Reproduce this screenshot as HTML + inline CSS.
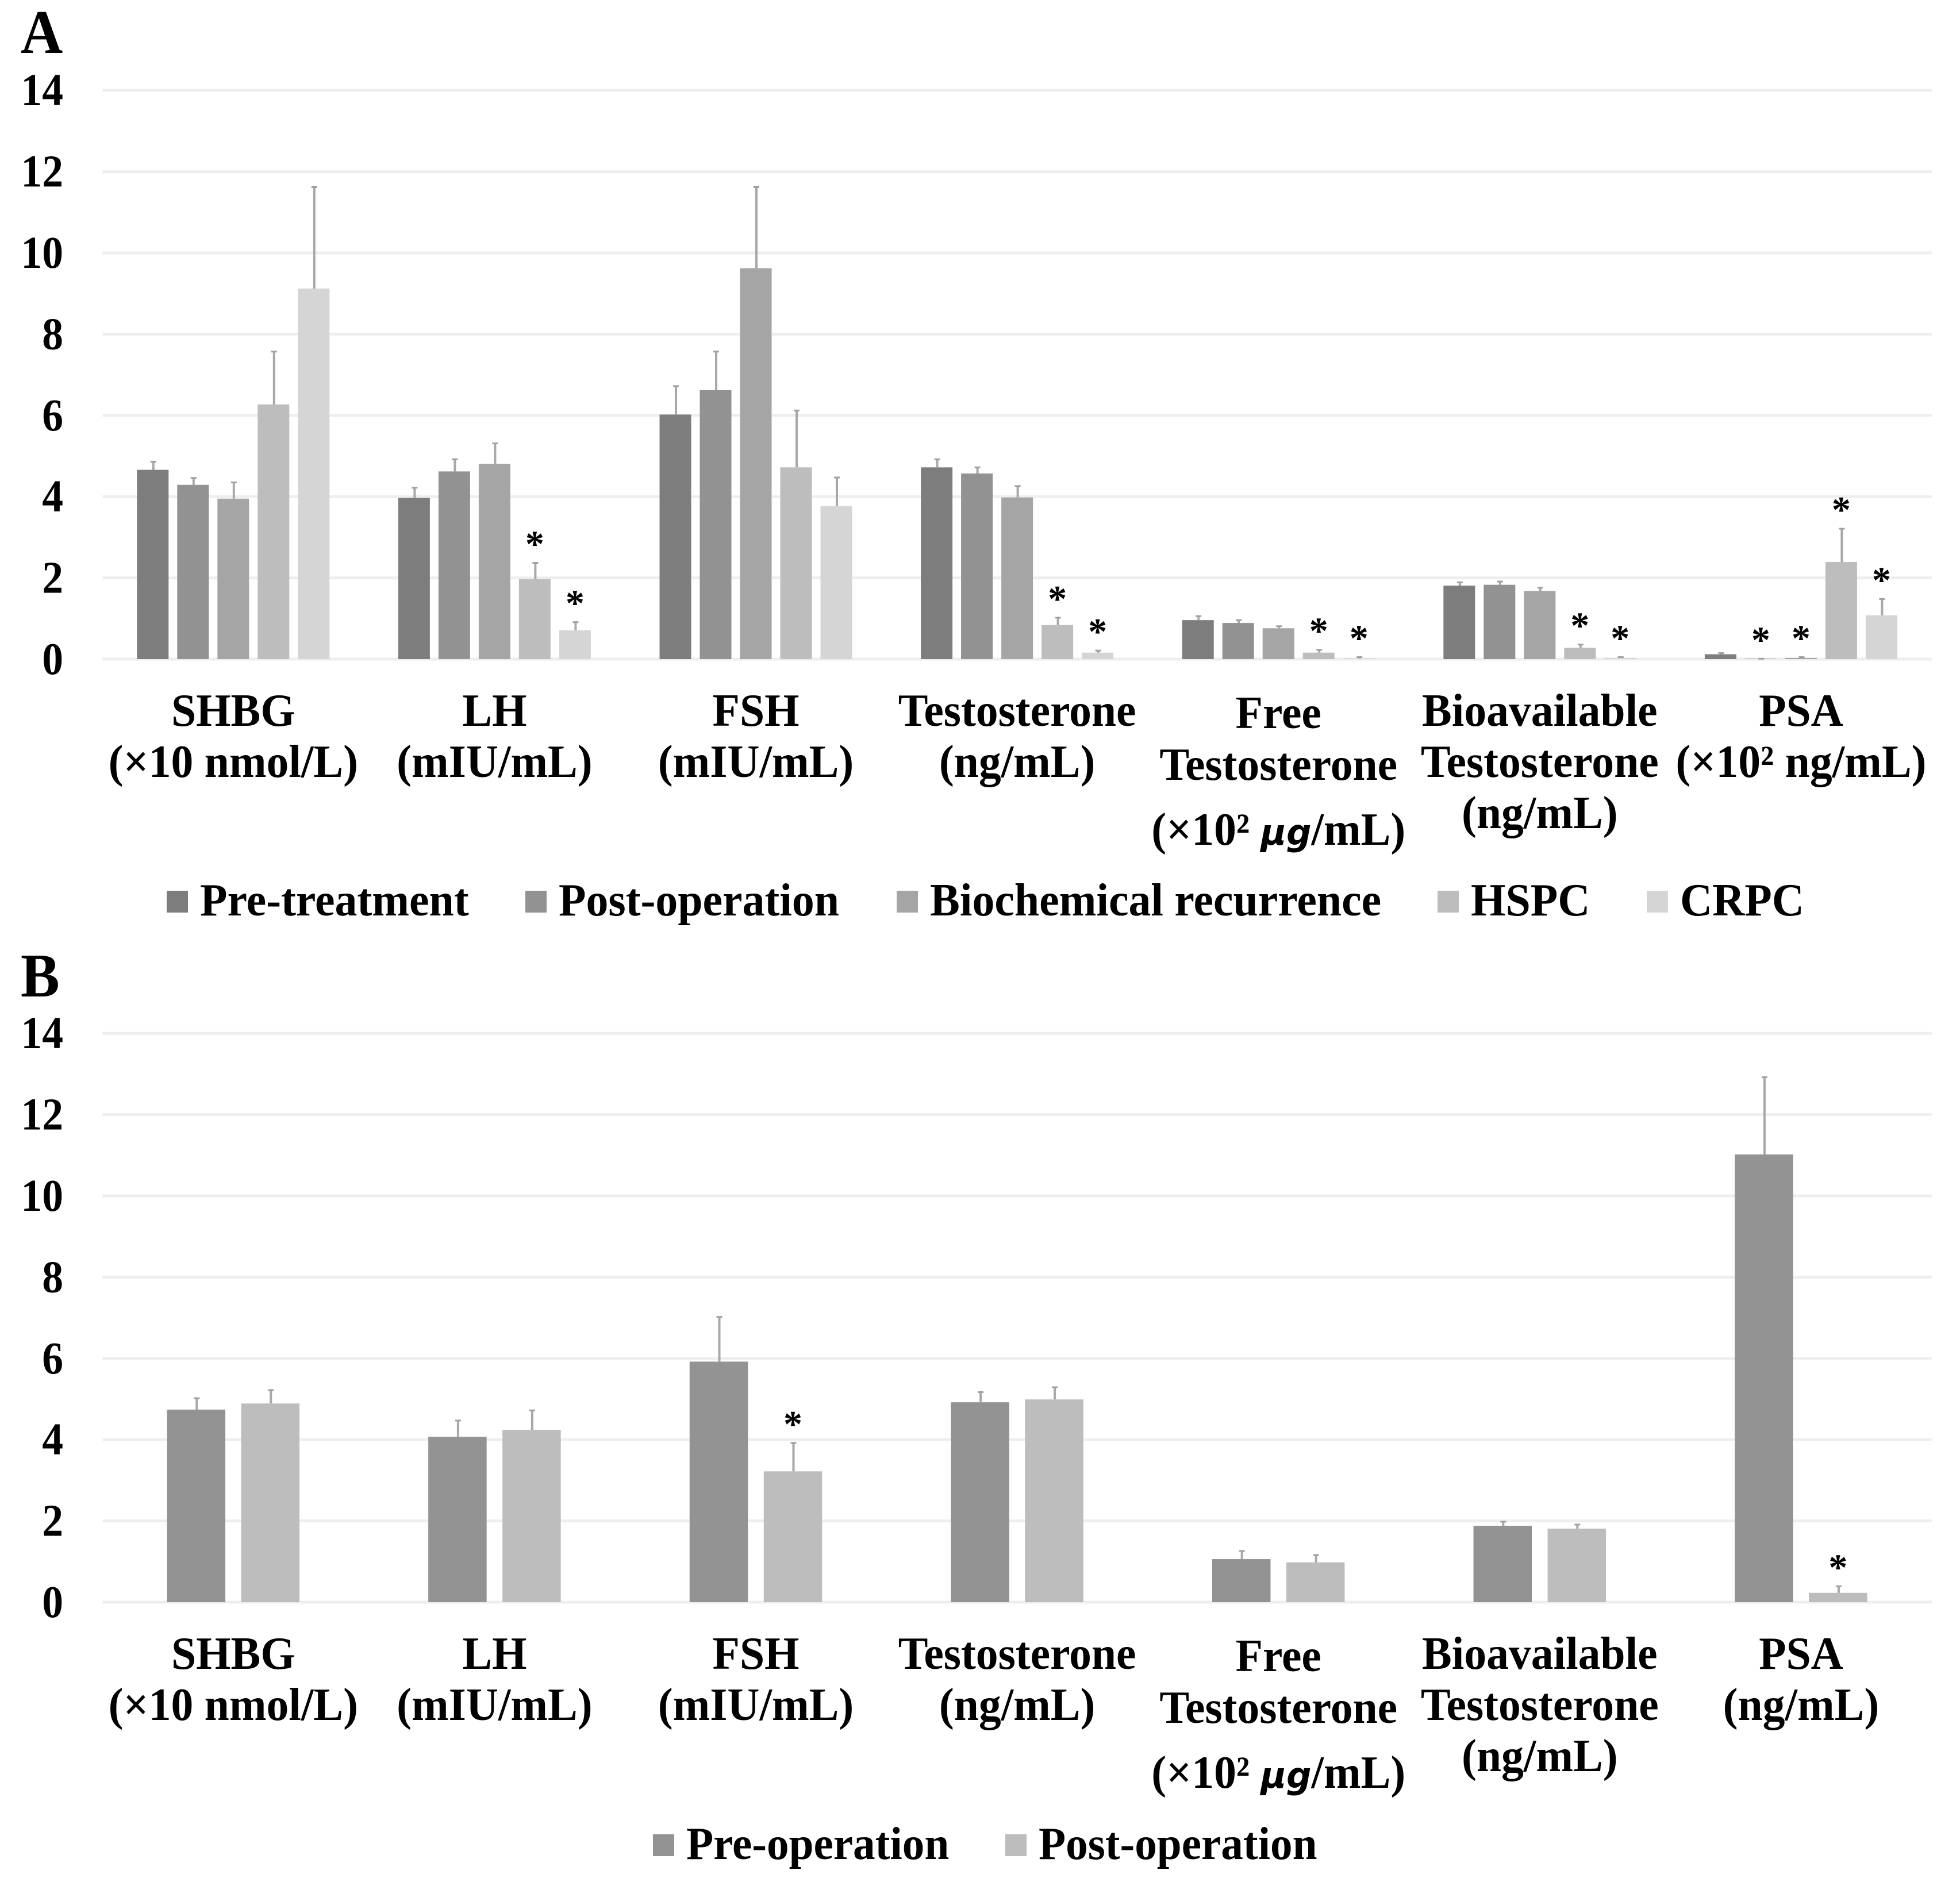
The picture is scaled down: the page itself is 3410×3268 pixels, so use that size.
<!DOCTYPE html>
<html lang="en">
<head>
<meta charset="utf-8">
<title>Hormone and PSA levels by treatment stage</title>
<style>
html,body{margin:0;padding:0;background:#fff;width:3410px;height:3268px;overflow:hidden}
svg{display:block}
text{font-family:"Liberation Serif",serif;font-weight:bold;fill:#000}
</style>
</head>
<body>
<svg id="chart" xmlns="http://www.w3.org/2000/svg" width="3410" height="3268" viewBox="0 0 3410 3268">
<rect width="3410" height="3268" fill="#fff"/>
</svg>
<script>
// ---------- shared data ----------
const yTicks = [0, 2, 4, 6, 8, 10, 12, 14];

const categoriesA = [
  ["SHBG", "(×10 nmol/L)"],
  ["LH", "(mIU/mL)"],
  ["FSH", "(mIU/mL)"],
  ["Testosterone", "(ng/mL)"],
  ["Free", "Testosterone", "(×10² μg/mL)"],
  ["Bioavailable", "Testosterone", "(ng/mL)"],
  ["PSA", "(×10² ng/mL)"]
];
const categoriesB = [
  ["SHBG", "(×10 nmol/L)"],
  ["LH", "(mIU/mL)"],
  ["FSH", "(mIU/mL)"],
  ["Testosterone", "(ng/mL)"],
  ["Free", "Testosterone", "(×10² μg/mL)"],
  ["Bioavailable", "Testosterone", "(ng/mL)"],
  ["PSA", "(ng/mL)"]
];

// ---------- panel A values ----------
const preTreatment = [4.66, 3.97, 6.02, 4.72, 0.96, 1.81, 0.12];
const postOperationA = [4.29, 4.62, 6.62, 4.57, 0.89, 1.83, 0.01];
const biochemicalRecurrence = [3.95, 4.81, 9.62, 3.98, 0.76, 1.68, 0.03];
const hspc = [6.27, 1.97, 4.72, 0.84, 0.16, 0.28, 2.39];
const crpc = [9.12, 0.71, 3.77, 0.16, 0.02, 0.03, 1.08];

const preTreatmentErr = [0.2, 0.25, 0.7, 0.2, 0.1, 0.08, 0.03];
const postOperationAErr = [0.17, 0.3, 0.95, 0.15, 0.07, 0.08, 0.0];
const biochemicalRecurrenceErr = [0.4, 0.5, 2.0, 0.28, 0.05, 0.08, 0.02];
const hspcErr = [1.3, 0.4, 1.4, 0.18, 0.07, 0.08, 0.82];
const crpcErr = [2.5, 0.2, 0.7, 0.05, 0.03, 0.02, 0.4];

const preTreatmentStars = [0, 0, 0, 0, 0, 0, 0];
const postOperationAStars = [0, 0, 0, 0, 0, 0, 1];
const biochemicalRecurrenceStars = [0, 0, 0, 0, 0, 0, 1];
const hspcStars = [0, 1, 0, 1, 1, 1, 1];
const crpcStars = [0, 1, 0, 1, 1, 1, 1];

const seriesNamesA = ["Pre-treatment", "Post-operation", "Biochemical recurrence", "HSPC", "CRPC"];
const seriesColorsA = ["#7d7d7d", "#929292", "#a5a5a5", "#bdbdbd", "#d5d5d5"];

// ---------- panel B values ----------
const preOperation = [4.74, 4.07, 5.92, 4.92, 1.06, 1.88, 11.02];
const postOperationB = [4.89, 4.24, 3.22, 4.99, 0.98, 1.81, 0.23];
const preOperationErr = [0.28, 0.4, 1.1, 0.25, 0.2, 0.1, 1.9];
const postOperationBErr = [0.33, 0.48, 0.7, 0.3, 0.18, 0.1, 0.16];
const preOperationStars = [0, 0, 0, 0, 0, 0, 0];
const postOperationBStars = [0, 0, 1, 0, 0, 0, 1];

const seriesNamesB = ["Pre-operation", "Post-operation"];
const seriesColorsB = ["#939393", "#bdbdbd"];

// ---------- drawing ----------
const NS = "http://www.w3.org/2000/svg";
const svg = document.getElementById("chart");
const X0 = 178.5, GROUP_W = 454.6, UNIT = 70.7;

function slug(s) {
  return s.toLowerCase().replace(/[^a-z0-9]+/g, "-").replace(/^-|-$/g, "");
}
function make(tag, props, parent) {
  const el = document.createElementNS(NS, tag);
  for (const k in props) el.setAttribute(k, props[k]);
  (parent || svg).appendChild(el);
  return el;
}
function label(parent, str, x, y, size, anchor, sx) {
  const t = make("text", {
    transform: "translate(" + x + " " + y + ") scale(" + sx + " 1)",
    "font-size": size,
    "text-anchor": anchor
  }, parent);
  const i = str.indexOf("μg");
  if (i >= 0) {
    t.appendChild(document.createTextNode(str.slice(0, i)));
    const m = make("tspan", {"font-family": "DejaVu Sans", "font-style": "italic", "font-size": size * 0.78}, t);
    m.textContent = "μg";
    t.appendChild(document.createTextNode(str.slice(i + 2)));
  } else {
    t.textContent = str;
  }
  return t;
}

function drawPanel(cfg) {
  const yAt = v => cfg.base - v * UNIT;
  const xCenter = i => X0 + GROUP_W * (i + 0.5);
  const panel = make("g", {});
  
  

  const letter = label(panel, cfg.id.toUpperCase(), 36, cfg.letterY, 108, "start", 0.94);
  
  

  yTicks.forEach(v => {
    const g = make("line", {x1: X0, x2: X0 + GROUP_W * 7, y1: yAt(v), y2: yAt(v), stroke: "#eeeeee", "stroke-width": 5}, panel);
    
    
    const t = label(panel, String(v), 110, yAt(v) + 26, 80, "end", 0.92);
    
    
  });

  const n = cfg.values.length;
  const startOffset = -cfg.pitch * (n - 1) / 2;
  cfg.values.forEach((vals, s) => {
    vals.forEach((v, i) => {
      const cx = xCenter(i) + startOffset + s * cfg.pitch;
      const key = slug(cfg.names[s]) + "-" + slug(cfg.cats[i][0]);
      const bar = make("rect", {x: cx - cfg.barW / 2, y: yAt(v), width: cfg.barW, height: cfg.base - yAt(v), fill: cfg.colors[s]}, panel);
      
      
      const top = v + cfg.errs[s][i];
      const err = make("line", {x1: cx + 1, x2: cx + 1, y1: yAt(v), y2: yAt(top), stroke: "#a8a8a8", "stroke-width": 4}, panel);
      
      
      const cap = make("line", {x1: cx - 4, x2: cx + 6, y1: yAt(top), y2: yAt(top), stroke: "#a0a0a0", "stroke-width": 3}, panel);
      
      
      if (cfg.stars[s][i]) {
        const st = label(panel, "*", cx, yAt(top) - 11, 66, "middle", 1);
        
        
      }
    });
  });

  cfg.cats.forEach((lines, i) => {
    const isFree = lines[0] === "Free";
    lines.forEach((ln, j) => {
      let dy = 116 + 89 * j;
      if (isFree) dy = cfg.freeOff[j];
      const t = label(panel, ln, xCenter(i), cfg.base + dy, 80, "middle", 0.97);
      
      
    });
  });

  cfg.legendX.forEach((x, s) => {
    const sw = make("rect", {x: x, y: cfg.legendY - 20, width: 37, height: 38, fill: cfg.colors[s]}, panel);
    
    
    const t = label(panel, cfg.names[s], x + 58, cfg.legendY + 23, 80, "start", cfg.legendScale);
    
    
  });
}

drawPanel({
  id: "a", base: 1147, letterY: 92, pitch: 70, barW: 55,
  cats: categoriesA, names: seriesNamesA, colors: seriesColorsA,
  values: [preTreatment, postOperationA, biochemicalRecurrence, hspc, crpc],
  errs: [preTreatmentErr, postOperationAErr, biochemicalRecurrenceErr, hspcErr, crpcErr],
  stars: [preTreatmentStars, postOperationAStars, biochemicalRecurrenceStars, hspcStars, crpcStars],
  legendX: [290, 914, 1560, 2501, 2865], legendY: 1570, legendScale: 0.972, freeOff: [120, 210, 323]
});
drawPanel({
  id: "b", base: 2788, letterY: 1734, pitch: 129, barW: 101.5,
  cats: categoriesB, names: seriesNamesB, colors: seriesColorsB,
  values: [preOperation, postOperationB],
  errs: [preOperationErr, postOperationBErr],
  stars: [preOperationStars, postOperationBStars],
  legendX: [1136, 1749], legendY: 3212, legendScale: 0.965, freeOff: [120, 210, 323]
});
</script>
</body>
</html>
